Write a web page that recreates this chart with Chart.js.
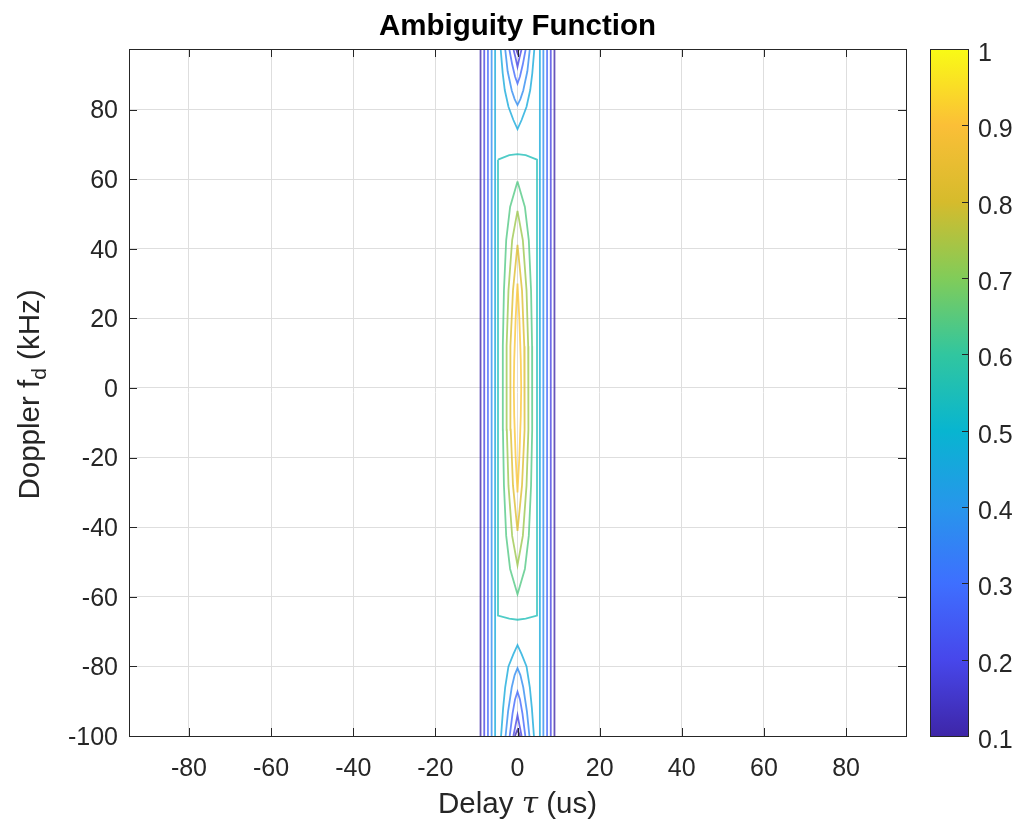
<!DOCTYPE html>
<html>
<head>
<meta charset="utf-8">
<script src="https://cdn.jsdelivr.net/npm/chart.js@4.4.1/dist/chart.umd.min.js"></script>
<style>
  html, body { margin: 0; padding: 0; background: #fff; }
  #wrap { position: relative; width: 1016px; height: 821px; }
  #main { position: absolute; left: 0; top: 0; }
  #cbar { position: absolute; left: 900px; top: 0; }
</style>
</head>
<body>
<div id="wrap">
  <canvas id="main" width="1016" height="821"></canvas>
  <canvas id="cbar" width="116" height="821"></canvas>
</div>
<script>
// contour levels and their polylines, [delay us, doppler kHz]
const levels = [0.10, 0.19, 0.28, 0.37, 0.46, 0.55, 0.64, 0.73, 0.82, 0.91];

const lvl010 = [
  [[-9.0, -100], [-9.0, 97.4]],
  [[9.0, -100], [9.0, 97.4]],
  [[-0.35, 97.4], [0, 96.2], [0.35, 97.4]],
  [[-0.6, -100], [-0.3, -99.0], [0, -98.2], [0.3, -99.0], [0.6, -100]]
];
const lvl019 = [
  [[-8.1, -100], [-8.1, 97.4]],
  [[8.1, -100], [8.1, 97.4]],
  [[-1.0, 97.4], [-0.5, 95.0], [0, 92.3], [0.5, 95.0], [1.0, 97.4]],
  [[-1.0, -100], [-0.5, -97.0], [0, -94.0], [0.5, -97.0], [1.0, -100]]
];
const lvl028 = [
  [[-7.2, -100], [-7.2, 97.4]],
  [[7.2, -100], [7.2, 97.4]],
  [[-2.0, 97.4], [-1.3, 93.0], [-0.6, 89.5], [0, 87.5], [0.6, 89.5], [1.3, 93.0], [2.0, 97.4]],
  [[-1.9, -100], [-1.2, -93.5], [-0.6, -89.5], [0, -87.3], [0.6, -89.5], [1.2, -93.5], [1.9, -100]]
];
const lvl037 = [
  [[-6.3, -100], [-6.3, 97.4]],
  [[6.3, -100], [6.3, 97.4]],
  [[-3.0, 97.4], [-2.4, 91.0], [-1.4, 85.5], [-0.7, 83.0], [0, 81.3], [0.7, 83.0], [1.4, 85.5], [2.4, 91.0], [3.0, 97.4]],
  [[-2.9, -100], [-2.3, -93.0], [-1.4, -86.0], [-0.7, -82.5], [0, -80.5], [0.7, -82.5], [1.4, -86.0], [2.3, -93.0], [2.9, -100]]
];
const lvl046 = [
  [[-5.45, -100], [-5.45, 97.4]],
  [[5.45, -100], [5.45, 97.4]],
  [[-4.1, 97.4], [-3.6, 90.4], [-3.1, 85.6], [-2.2, 80.8], [-1.0, 77.0], [0, 74.4], [1.0, 77.0], [2.2, 80.8], [3.1, 85.6], [3.6, 90.4], [4.1, 97.4]],
  [[-4.0, -100], [-3.5, -92.0], [-3.0, -86.0], [-2.2, -80.0], [-1.0, -76.5], [0, -73.9], [1.0, -76.5], [2.2, -80.0], [3.0, -86.0], [3.5, -92.0], [4.0, -100]]
];
const lvl055 = [
  [[-4.75, 65.6], [-4.75, -65.4], [-2.0, -66.3], [0, -66.6], [2.0, -66.3], [4.75, -65.4],
   [4.75, 65.6], [2.0, 66.9], [0, 67.2], [-2.0, 66.9], [-4.75, 65.6]]
];
const lvl064 = [
  [[0, 59.3], [1.8, 52], [2.75, 42.5], [3.3, 28], [3.55, 12], [3.6, 0], [3.55, -12], [3.3, -28], [2.75, -42.5], [1.8, -52],
   [0, -59.3], [-1.8, -52], [-2.75, -42.5], [-3.3, -28], [-3.55, -12], [-3.6, 0], [-3.55, 12], [-3.3, 28], [-2.75, 42.5], [-1.8, 52], [0, 59.3]]
];
const lvl073 = [
  [[0, 50.9], [1.3, 42.5], [2.2, 28], [2.6, 12], [2.7, 0], [2.6, -12], [2.2, -28], [1.3, -42.5],
   [0, -50.9], [-1.3, -42.5], [-2.2, -28], [-2.6, -12], [-2.7, 0], [-2.6, 12], [-2.2, 28], [-1.3, 42.5], [0, 50.9]]
];
const lvl082 = [
  [[0, 41.1], [1.1, 28], [1.65, 12], [1.8, 0], [1.65, -12], [1.1, -28],
   [0, -41.1], [-1.1, -28], [-1.65, -12], [-1.8, 0], [-1.65, 12], [-1.1, 28], [0, 41.1]]
];
const lvl091 = [
  [[0, 30], [0.45, 20], [0.8, 8], [0.9, 0], [0.8, -8], [0.45, -20],
   [0, -30], [-0.45, -20], [-0.8, -8], [-0.9, 0], [-0.8, 8], [-0.45, 20], [0, 30]]
];
const contourLines = [lvl010, lvl019, lvl028, lvl037, lvl046, lvl055, lvl064, lvl073, lvl082, lvl091];

const xTickStep = 20;
const yTickStep = 20;
const cbarTickStep = 0.1;
const cmin = 0.1, cmax = 1;

// parula colormap
const parula = ['#3e26a8', '#4747eb', '#3e6fff', '#2796eb', '#08b5d0',
                '#31c69f', '#81cc59', '#d6bb2c', '#fbbf37', '#f9fb15'];
function hexRgb(h) {
  return [parseInt(h.slice(1, 3), 16), parseInt(h.slice(3, 5), 16), parseInt(h.slice(5, 7), 16)];
}
function levelColor(v, alpha) {
  const f = Math.max(0, Math.min(1, (v - cmin) / (cmax - cmin))) * (parula.length - 1);
  const i = Math.min(parula.length - 2, Math.floor(f));
  const t = f - i;
  const a = hexRgb(parula[i]), b = hexRgb(parula[i + 1]);
  const c = a.map((x, j) => Math.round(x + (b[j] - x) * t));
  return `rgba(${c[0]}, ${c[1]}, ${c[2]}, ${alpha})`;
}

const fontFam = '"Liberation Sans", Arial, Helvetica, sans-serif';
const axisColor = '#262626';

const datasets = [];
levels.forEach((lv, k) => {
  contourLines[k].forEach(line => {
    datasets.push({
      data: line.map(p => ({ x: p[0], y: p[1] })),
      showLine: true,
      borderColor: levelColor(lv, 0.78),
      borderWidth: 1.8,
      pointRadius: 0,
      fill: false,
      tension: 0
    });
  });
});

// box, inward ticks and axis labels
const axesDecor = {
  id: 'axesDecor',
  afterDatasetsDraw(chart) {
    const ctx = chart.ctx;
    const ca = chart.chartArea;
    const xs = chart.scales.x, ys = chart.scales.y;
    ctx.save();
    ctx.strokeStyle = axisColor;
    ctx.lineWidth = 1;
    ctx.beginPath();
    xs.ticks.forEach(t => {
      const px = Math.round(xs.getPixelForValue(t.value)) + 0.5;
      ctx.moveTo(px, ca.bottom); ctx.lineTo(px, ca.bottom - 8);
      ctx.moveTo(px, ca.top); ctx.lineTo(px, ca.top + 8);
    });
    ys.ticks.forEach(t => {
      const py = Math.round(ys.getPixelForValue(t.value)) + 0.5;
      ctx.moveTo(ca.left, py); ctx.lineTo(ca.left + 8, py);
      ctx.moveTo(ca.right, py); ctx.lineTo(ca.right - 8, py);
    });
    ctx.stroke();
    ctx.strokeRect(Math.round(ca.left) + 0.5, Math.round(ca.top) + 0.5, Math.round(ca.width), Math.round(ca.height));

    // x label: Delay τ (us)
    ctx.fillStyle = axisColor;
    ctx.textBaseline = 'alphabetic';
    const fN = '29.5px ' + fontFam, fI = 'italic 29.5px "DejaVu Serif", serif';
    ctx.font = fN; const w1 = ctx.measureText('Delay ').width, w3 = ctx.measureText(' (us)').width;
    ctx.font = fI; const w2 = ctx.measureText('τ').width;
    let x0 = (ca.left + ca.right) / 2 - (w1 + w2 + w3) / 2;
    const by = ca.bottom + 77;
    ctx.textAlign = 'left';
    ctx.font = fN; ctx.fillText('Delay ', x0, by);
    ctx.font = fI; ctx.fillText('τ', x0 + w1, by);
    ctx.font = fN; ctx.fillText(' (us)', x0 + w1 + w2, by);

    // y label: Doppler f_d (kHz)
    ctx.translate(39, (ca.top + ca.bottom) / 2 + 2);
    ctx.rotate(-Math.PI / 2);
    const fS = '21px ' + fontFam;
    ctx.font = fN; const a1 = ctx.measureText('Doppler f').width, a3 = ctx.measureText(' (kHz)').width;
    ctx.font = fS; const a2 = ctx.measureText('d').width;
    let y0 = -(a1 + a2 + a3) / 2;
    ctx.font = fN; ctx.fillText('Doppler f', y0, 0);
    ctx.font = fS; ctx.fillText('d', y0 + a1, 7);
    ctx.font = fN; ctx.fillText(' (kHz)', y0 + a1 + a2, 0);
    ctx.restore();
  }
};

new Chart(document.getElementById('main'), {
  type: 'scatter',
  data: { datasets },
  options: {
    responsive: false,
    animation: false,
    layout: { padding: { left: 0, right: 110, top: 0, bottom: 0 } },
    plugins: {
      legend: { display: false },
      tooltip: { enabled: false },
      title: {
        display: true,
        text: 'Ambiguity Function',
        fullSize: false,
        color: '#000',
        font: { family: fontFam, size: 29.5, weight: 'bold', lineHeight: 1.2 },
        padding: { top: 9, bottom: 4.6 }
      }
    },
    scales: {
      x: {
        type: 'linear',
        min: -94.6,
        max: 94.6,
        afterFit: s => { s.height = 85; },
        ticks: { stepSize: xTickStep, includeBounds: false, color: axisColor, padding: 18, maxRotation: 0,
                 font: { family: fontFam, size: 25 } },
        grid: { color: '#dedede', drawTicks: false },
        border: { display: false }
      },
      y: {
        type: 'linear',
        min: -100,
        max: 97.4,
        afterFit: s => { s.width = 129; },
        ticks: { stepSize: yTickStep, includeBounds: false, color: axisColor, padding: 11, labelOffset: 2,
                 font: { family: fontFam, size: 25 } },
        grid: { color: '#dedede', drawTicks: false },
        border: { display: false }
      }
    }
  },
  plugins: [axesDecor]
});

// colour bar
const cbarDecor = {
  id: 'cbarDecor',
  afterDatasetsDraw(chart) {
    const ctx = chart.ctx;
    const ca = chart.chartArea;
    const ys = chart.scales.y;
    ctx.save();
    ctx.strokeStyle = axisColor;
    ctx.lineWidth = 1;
    ctx.beginPath();
    ys.ticks.forEach(t => {
      const py = Math.round(ys.getPixelForValue(t.value)) + 0.5;
      ctx.moveTo(ca.right, py); ctx.lineTo(ca.right - 6, py);
    });
    ctx.stroke();
    ctx.strokeRect(Math.round(ca.left) + 0.5, Math.round(ca.top) + 0.5, Math.round(ca.width), Math.round(ca.height));
    ctx.restore();
  }
};

new Chart(document.getElementById('cbar'), {
  type: 'bar',
  data: {
    labels: [''],
    datasets: [{
      data: [[cmin, cmax]],
      barPercentage: 1,
      categoryPercentage: 1,
      borderWidth: 0,
      backgroundColor: (c) => {
        const ca = c.chart.chartArea;
        if (!ca) return parula[0];
        const g = c.chart.ctx.createLinearGradient(0, ca.bottom, 0, ca.top);
        parula.forEach((col, i) => g.addColorStop(i / (parula.length - 1), col));
        return g;
      }
    }]
  },
  options: {
    responsive: false,
    animation: false,
    layout: { padding: { left: 30, right: 0, top: 49, bottom: 85 } },
    plugins: { legend: { display: false }, tooltip: { enabled: false } },
    scales: {
      x: { display: false },
      y: {
        position: 'right',
        min: cmin,
        max: cmax,
        afterFit: s => { s.width = 48; },
        ticks: { stepSize: cbarTickStep, color: axisColor, padding: 10, labelOffset: 5,
                 font: { family: fontFam, size: 25 },
                 callback: v => String(Math.round(v * 10) / 10) },
        grid: { display: false, drawTicks: false },
        border: { display: false }
      }
    }
  },
  plugins: [cbarDecor]
});
</script>
</body>
</html>
